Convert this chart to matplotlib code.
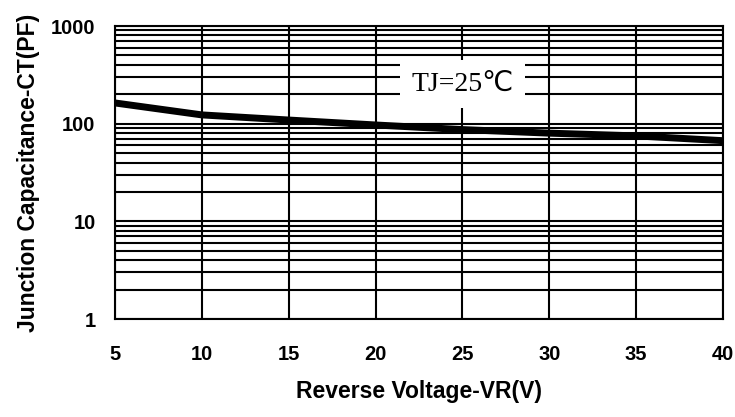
import matplotlib
matplotlib.use("Agg")
import matplotlib.pyplot as plt
from matplotlib.ticker import FixedLocator, NullFormatter

voltage = [5, 10, 15, 20, 25, 30, 35, 40]
capacitance = [163, 123, 109, 97, 87, 80, 75, 67]
x_ticks = [5, 10, 15, 20, 25, 30, 35, 40]
y_ticks = [1, 10, 100, 1000]
y_tick_labels = ["1", "10", "100", "1000"]

fig = plt.figure(figsize=(7.35, 4.17), dpi=100)
ax = fig.add_axes([0.1565, 0.235, 0.827, 0.7026])
ax.set_yscale("log")
ax.set_xlim(5, 40)
ax.set_ylim(1, 1000)

ax.set_xticks(x_ticks)
ax.set_xticklabels([str(v) for v in x_ticks])
ax.set_yticks(y_ticks)
ax.set_yticklabels(y_tick_labels)
minors = [m * 10 ** d for d in range(0, 3) for m in range(2, 10)]
ax.yaxis.set_minor_locator(FixedLocator(minors))
ax.yaxis.set_minor_formatter(NullFormatter())

ax.grid(True, which="both", axis="y", color="black", linewidth=1.5)
ax.grid(True, which="major", axis="x", color="black", linewidth=1.5)
ax.set_axisbelow(True)
for s in ax.spines.values():
    s.set_linewidth(1.5)
    s.set_color("black")

ax.tick_params(which="both", length=0)
ax.tick_params(axis="x", pad=19)
ax.tick_params(axis="y", pad=14)
for lab in ax.get_xticklabels() + ax.get_yticklabels():
    lab.set_fontfamily("Liberation Sans")
    lab.set_fontweight("bold")
    lab.set_fontsize(14.5)

ax.plot(voltage, capacitance, color="black", linewidth=5, solid_capstyle="butt", zorder=3)

ax.text(25.0, 255, "TJ=25℃", family=["Liberation Serif", "DejaVu Sans"], fontsize=20,
        ha="center", va="center", zorder=4,
        bbox=dict(facecolor="white", edgecolor="none", pad=8))

ax.set_xlabel("Reverse Voltage-VR(V)", family="Liberation Sans", fontweight="bold",
              fontsize=16.5, labelpad=11)
ax.set_ylabel("Junction Capacitance-CT(PF)", family="Liberation Sans", fontweight="bold",
              fontsize=16.5, labelpad=8)

fig.savefig("out.png", dpi=100)
